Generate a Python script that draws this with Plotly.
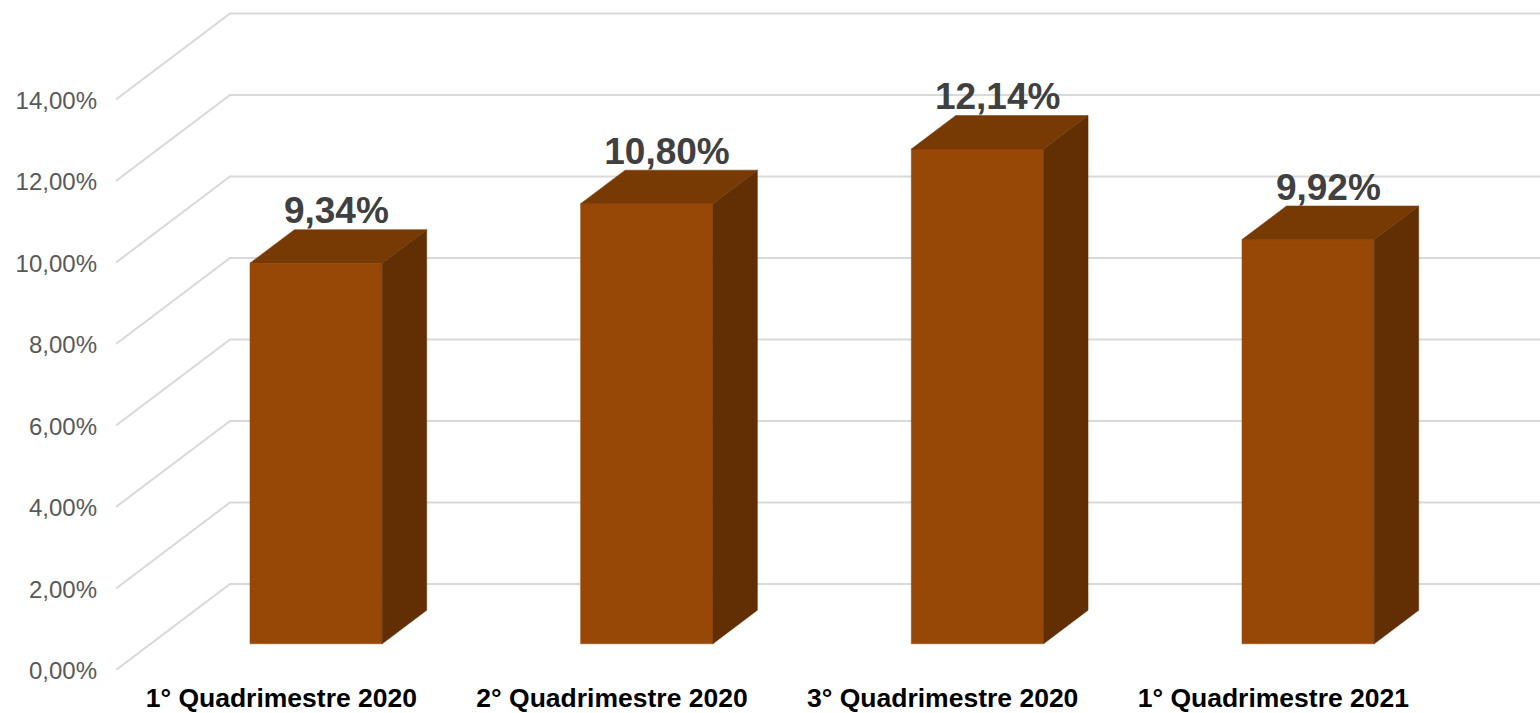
import plotly.graph_objects as go

categories = ["1° Quadrimestre 2020", "2° Quadrimestre 2020", "3° Quadrimestre 2020", "1° Quadrimestre 2021"]
values = [9.34, 10.80, 12.14, 9.92]
value_labels = ["9,34%", "10,80%", "12,14%", "9,92%"]
tick_vals = [0, 2, 4, 6, 8, 10, 12, 14]
tick_text = ["0,00%", "2,00%", "4,00%", "6,00%", "8,00%", "10,00%", "12,00%", "14,00%"]

WIDTH, HEIGHT = 1540, 713
M_L, M_B = 116, 43
SLOT = 330.67
Y_SCALE = 40.75
x_range = [-0.5, (WIDTH - M_L) / SLOT - 0.5]
y_range = [0, (HEIGHT - M_B) / Y_SCALE]

# oblique projection: depth 0 = front of the box, 1 = back wall
DEPTH_X = 114 / SLOT
DEPTH_Y = 86 / Y_SCALE
BAR_FRONT, BAR_BACK = 0.305, 0.695
BAR_HALF = 0.2
LABEL_GAP = 15.5 / Y_SCALE


def proj(x, v, d):
    return x + d * DEPTH_X, v + d * DEPTH_Y


GRID = "#d9d9d9"
FRONT, SIDE, TOP = "#974706", "#622f04", "#773a05"
fig = go.Figure()


def poly(pts, color):
    xs, ys = zip(*pts)
    fig.add_trace(go.Scatter(
        x=list(xs) + [xs[0]], y=list(ys) + [ys[0]], mode="lines", fill="toself",
        fillcolor=color, line=dict(color=color, width=0.5), hoverinfo="skip", showlegend=False,
    ))


for t in tick_vals:
    a = proj(x_range[0], t, 0)
    b = proj(x_range[0], t, 1)
    c = proj(x_range[1], t, 1)
    fig.add_trace(go.Scatter(
        x=[a[0], b[0], c[0]], y=[a[1], b[1], c[1]], mode="lines",
        line=dict(color=GRID, width=2), hoverinfo="skip", showlegend=False,
    ))

for i, v in enumerate(values):
    l, r = i - BAR_HALF, i + BAR_HALF
    poly([proj(l, 0, BAR_FRONT), proj(r, 0, BAR_FRONT), proj(r, v, BAR_FRONT), proj(l, v, BAR_FRONT)], FRONT)
    poly([proj(r, 0, BAR_FRONT), proj(r, 0, BAR_BACK), proj(r, v, BAR_BACK), proj(r, v, BAR_FRONT)], SIDE)
    poly([proj(l, v, BAR_FRONT), proj(r, v, BAR_FRONT), proj(r, v, BAR_BACK), proj(l, v, BAR_BACK)], TOP)

lx = [proj(i, v, (BAR_FRONT + BAR_BACK) / 2)[0] - 0.006 for i, v in enumerate(values)]
ly = [proj(i, v, BAR_BACK)[1] + LABEL_GAP for i, v in enumerate(values)]
fig.add_trace(go.Scatter(
    x=lx, y=ly, mode="text", text=value_labels, textposition="middle center",
    textfont=dict(family="Liberation Sans", size=37, color="#404040", weight="bold"),
    hoverinfo="skip", showlegend=False,
))

fig.update_layout(
    width=WIDTH, height=HEIGHT, margin=dict(l=M_L, r=0, t=0, b=M_B, pad=0, autoexpand=False),
    plot_bgcolor="white", paper_bgcolor="white", showlegend=False,
    xaxis=dict(
        range=x_range, tickmode="array", tickvals=list(range(len(categories))), ticktext=categories,
        showgrid=False, zeroline=False, showline=False, ticks="", ticklabelstandoff=9, automargin=False,
        tickfont=dict(family="Liberation Sans", size=26.5, color="#000000", weight="bold"),
    ),
    yaxis=dict(
        range=y_range, tickmode="array", tickvals=tick_vals, ticktext=tick_text,
        showgrid=False, zeroline=False, showline=False, ticks="", ticklabelstandoff=18, automargin=False,
        ticklabelshift=1,
        tickfont=dict(family="Liberation Sans", size=24, color="#595959"),
    ),
)

fig.write_html("out.html", config={"displayModeBar": False},
               post_script="document.body.style.margin='0';document.documentElement.style.overflow='hidden';")
